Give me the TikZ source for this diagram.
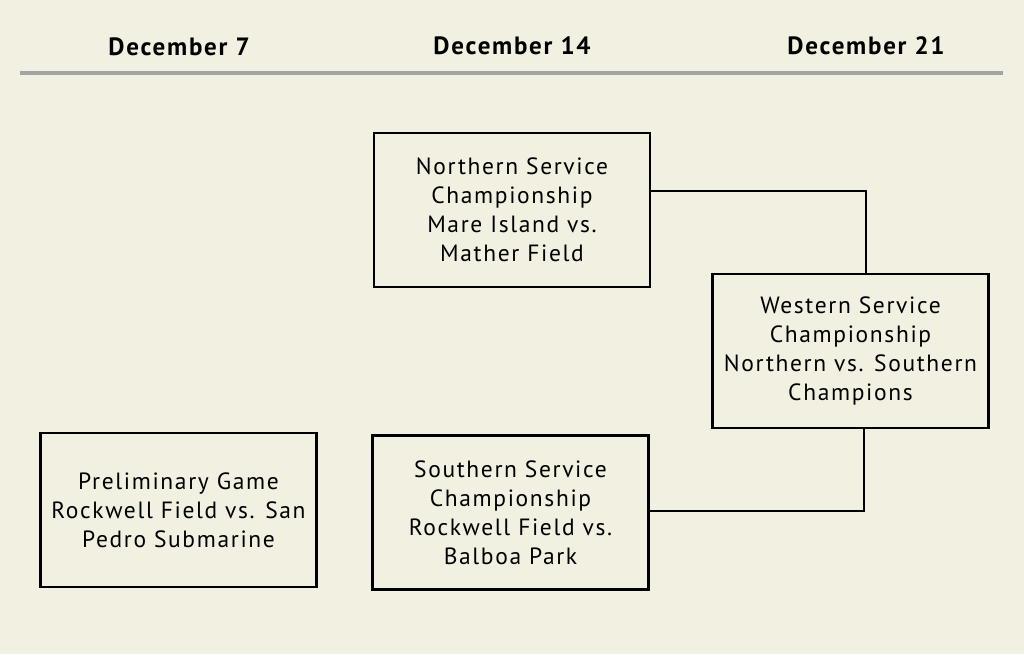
\documentclass[tikz,border=0pt]{standalone}
\usepackage{fontspec}
\setmainfont[LetterSpace=7]{PT Sans}
\usetikzlibrary{positioning}
\definecolor{paper}{HTML}{F2F0E0}
\definecolor{rule}{HTML}{A3A3A3}
\tikzset{
  game/.style={draw=black, line width=2.2pt, minimum width=276pt, minimum height=154pt,
    align=center, font=\fontsize{23.5}{29}\selectfont, inner sep=2pt},
  date/.style={font=\fontsize{25}{28}\selectfont\bfseries},
  link/.style={line width=2pt}
}
\begin{document}
\begin{tikzpicture}[x=1pt, y=-1pt]
    % Background
    \fill[paper] (0,0) rectangle (1024,654);
    \useasboundingbox (0,0) rectangle (1024,654);

    % Dates
    \node[date] (d7) at (179,47) {December 7};
    \node[date] (d14) at (512,46) {December 14};
    \node[date] (d21) at (866,46) {December 21};
    \draw[rule, line width=4pt] (20,73) -- (1003,73);

    % Games
    \node[game] (north) at (512,210) {Northern Service\\Championship\\Mare Island vs.\\Mather Field};
    \node[game] (west) at (850.5,351) {Western Service\\Championship\\Northern vs. Southern\\Champions};
    \node[game] (prelim) at (178.5,510) {Preliminary Game\\Rockwell Field vs. San\\Pedro Submarine};
    \node[game] (south) at (510.5,512.5) {Southern Service\\Championship\\Rockwell Field vs.\\Balboa Park};

    % Links
    \draw[link] ([yshift=19pt]north.east) -| ([xshift=15pt]west.north);
    \draw[link] ([yshift=1.5pt]south.east) -| ([xshift=13.5pt]west.south);
\end{tikzpicture}
\end{document}
